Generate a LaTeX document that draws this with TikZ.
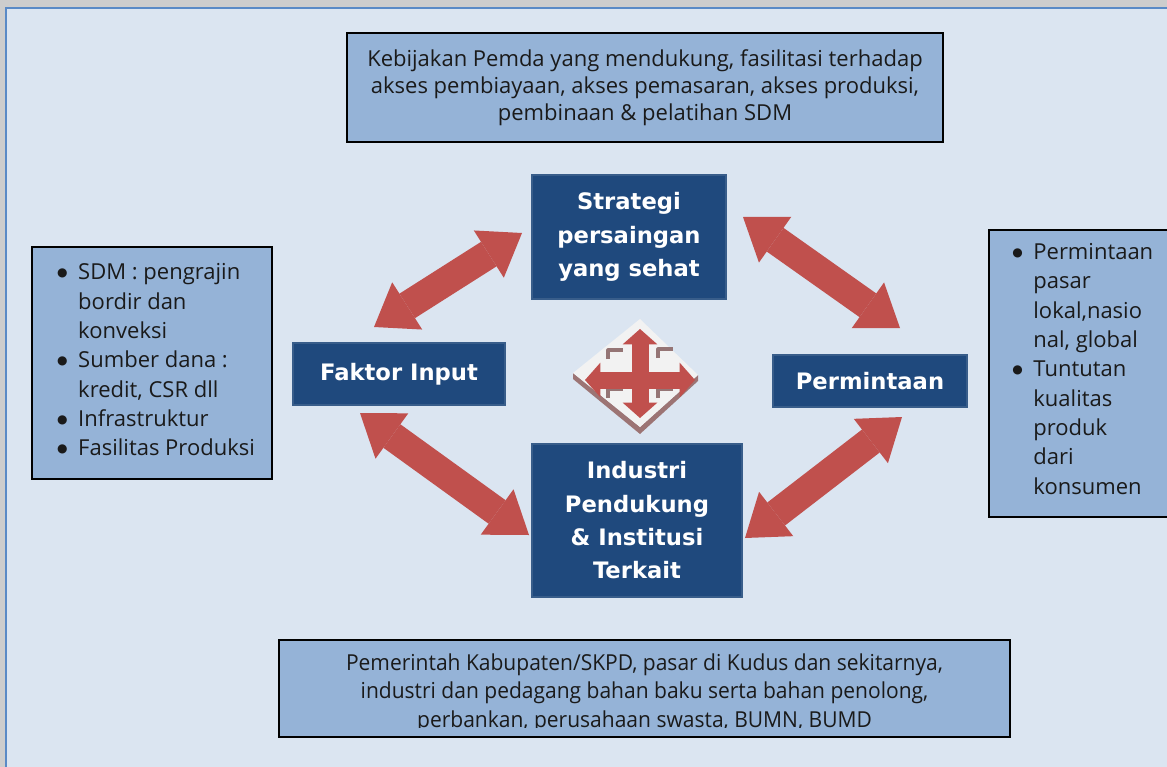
\documentclass[tikz,border=0pt]{standalone}
\usepackage{fontspec}
\setmainfont{Open Sans}
\newfontfamily\keyfont{DejaVu Sans}
\newfontfamily\narrowfont{Open Sans}[FakeStretch=0.955]
\usetikzlibrary{arrows.meta}
\definecolor{pagegray}{HTML}{CDCDCD}
\definecolor{panelfill}{HTML}{DBE5F1}
\definecolor{panelline}{HTML}{5A8AC6}
\definecolor{boxfill}{HTML}{95B3D7}
\definecolor{navy}{HTML}{1F497D}
\definecolor{navyedge}{HTML}{385D8A}
\definecolor{arrowred}{HTML}{C0504D}
\definecolor{tilegray}{HTML}{F2F2F2}
\definecolor{tileshade}{HTML}{9C7474}
\definecolor{tilemark}{HTML}{957575}
\definecolor{inktext}{HTML}{1A1A1A}
% a round list marker, a little larger than the plain bullet
\newcommand\listdot{\raisebox{2.6pt}{\keyfont\fontsize{9}{9}\selectfont ●}}

\begin{document}
\begin{tikzpicture}[x=0.75pt,y=-0.75pt,
  infobox/.style={draw=black, line width=1.5pt, fill=boxfill, inner sep=0pt,
    text=inktext, font=\fontsize{16.5}{20.25}\selectfont, align=center},
  listtext/.style={text=inktext, inner sep=0pt,
    font=\fontsize{16.5}{22}\selectfont},
  keybox/.style={fill=navy, draw=navyedge, line width=1pt, text=white,
    inner sep=0pt, align=center, font=\keyfont\bfseries\fontsize{17}{25}\selectfont},
  twoway/.style={draw=arrowred, line width=21.75pt,
    {Triangle[length=29.5pt,width=42pt,line width=0pt]}-{Triangle[length=29.5pt,width=42pt,line width=0pt]}},
  smallway/.style={draw=arrowred, line width=12.75pt,
    {Triangle[length=11.5pt,width=26pt,line width=0pt]}-{Triangle[length=11.5pt,width=26pt,line width=0pt]}},
  cornermark/.style={draw=tilemark, line width=2.4pt, line join=round}]

% page and panel
\useasboundingbox (0,0) rectangle (1167,767);
\fill[pagegray] (0,0) rectangle (1167,767);
\fill[panelfill] (6,8) rectangle (1190,790);
\draw[panelline, line width=2pt] (6,8) rectangle (1190,790);

% surrounding information boxes
\node[infobox, minimum width=447pt, minimum height=81.75pt] (policy) at (645,87.5)
  {Kebijakan Pemda yang mendukung, fasilitasi terhadap\\
   akses pembiayaan, akses pemasaran, akses produksi,\\
   pembinaan \& pelatihan SDM};

\node[infobox, minimum width=180pt, minimum height=174pt] (inputlist) at (152,363) {};
\node[listtext] (inputtext) at (156,362) {%
  \begin{tabular}{@{}l@{\hspace{8pt}}l@{}}
  \listdot & SDM : pengrajin\\
           & bordir dan\\
           & konveksi\\
  \listdot & Sumber dana :\\
           & kredit, CSR dll\\
  \listdot & Infrastruktur\\
  \listdot & Fasilitas Produksi
  \end{tabular}};

\node[infobox, minimum width=143.25pt, minimum height=215.25pt] (demandlist) at (1084.5,373.5) {};
\node[listtext, anchor=west] (demandtext) at (1012,371) {%
  \begin{tabular}{@{}l@{\hspace{8pt}}l@{}}
  \listdot & Permintaan\\
           & pasar\\
           & lokal,nasio\\
           & nal, global\\
  \listdot & Tuntutan\\
           & kualitas\\
           & produk\\
           & dari\\
           & konsumen
  \end{tabular}};

\node[infobox, minimum width=548.25pt, minimum height=72.75pt] (actors) at (644.5,688.5) {};
\begin{scope}
  \clip (actors.north west) rectangle ([yshift=8.25pt]actors.south east);
  \node[listtext, align=center, font=\narrowfont\fontsize{16.5}{21.4}\selectfont] (actorstext) at (644.5,693)
    {Pemerintah Kabupaten/SKPD, pasar di Kudus dan sekitarnya,\\
     industri dan pedagang bahan baku serta bahan penolong,\\
     perbankan, perusahaan swasta, BUMN, BUMD};
\end{scope}

% the four determinants
\node[keybox, minimum width=145.5pt, minimum height=93pt] (strategy) at (629,237)
  {Strategi\\persaingan\\yang sehat};
\node[keybox, minimum width=159pt, minimum height=46.5pt] (input) at (399,374)
  {Faktor Input};
\node[keybox, minimum width=145.5pt, minimum height=39pt] (demand) at (870,381)
  {Permintaan};
\node[keybox, minimum width=157.5pt, minimum height=114.75pt] (industry) at (637,520.5)
  {Industri\\Pendukung\\\& Institusi\\Terkait};

% arrow end points beside the boxes
\coordinate (in-up)   at (374,327);
\coordinate (st-left) at (522,233);
\coordinate (st-right) at (743,217);
\coordinate (de-up)   at (900,328);
\coordinate (in-down) at (360,413);
\coordinate (ind-left) at (529,535);
\coordinate (de-down) at (902,417);
\coordinate (ind-right) at (745,538);

\draw[twoway] (in-up) -- (st-left);
\draw[twoway] (st-right) -- (de-up);
\draw[twoway] (in-down) -- (ind-left);
\draw[twoway] (de-down) -- (ind-right);

% central tile with the four-way arrow
\fill[tileshade] (573,373) -- (640,427) -- (698,375) -- (698,381) -- (640,434) -- (573,379) -- cycle;
\fill[tilegray] (640,319) -- (698,375) -- (640,427) -- (573,373) -- cycle;
\draw[cornermark] (608,359) -- (608,350) -- (623,350);
\draw[cornermark] (658,358) -- (658,349) -- (673,349);
\draw[cornermark] (608,398) -- (608,389) -- (623,389);
\draw[cornermark] (658,398) -- (658,389) -- (673,389);
\draw[smallway] (585,380) -- (695,380);
\draw[smallway] (640,329) -- (640,418);

\end{tikzpicture}
\end{document}
